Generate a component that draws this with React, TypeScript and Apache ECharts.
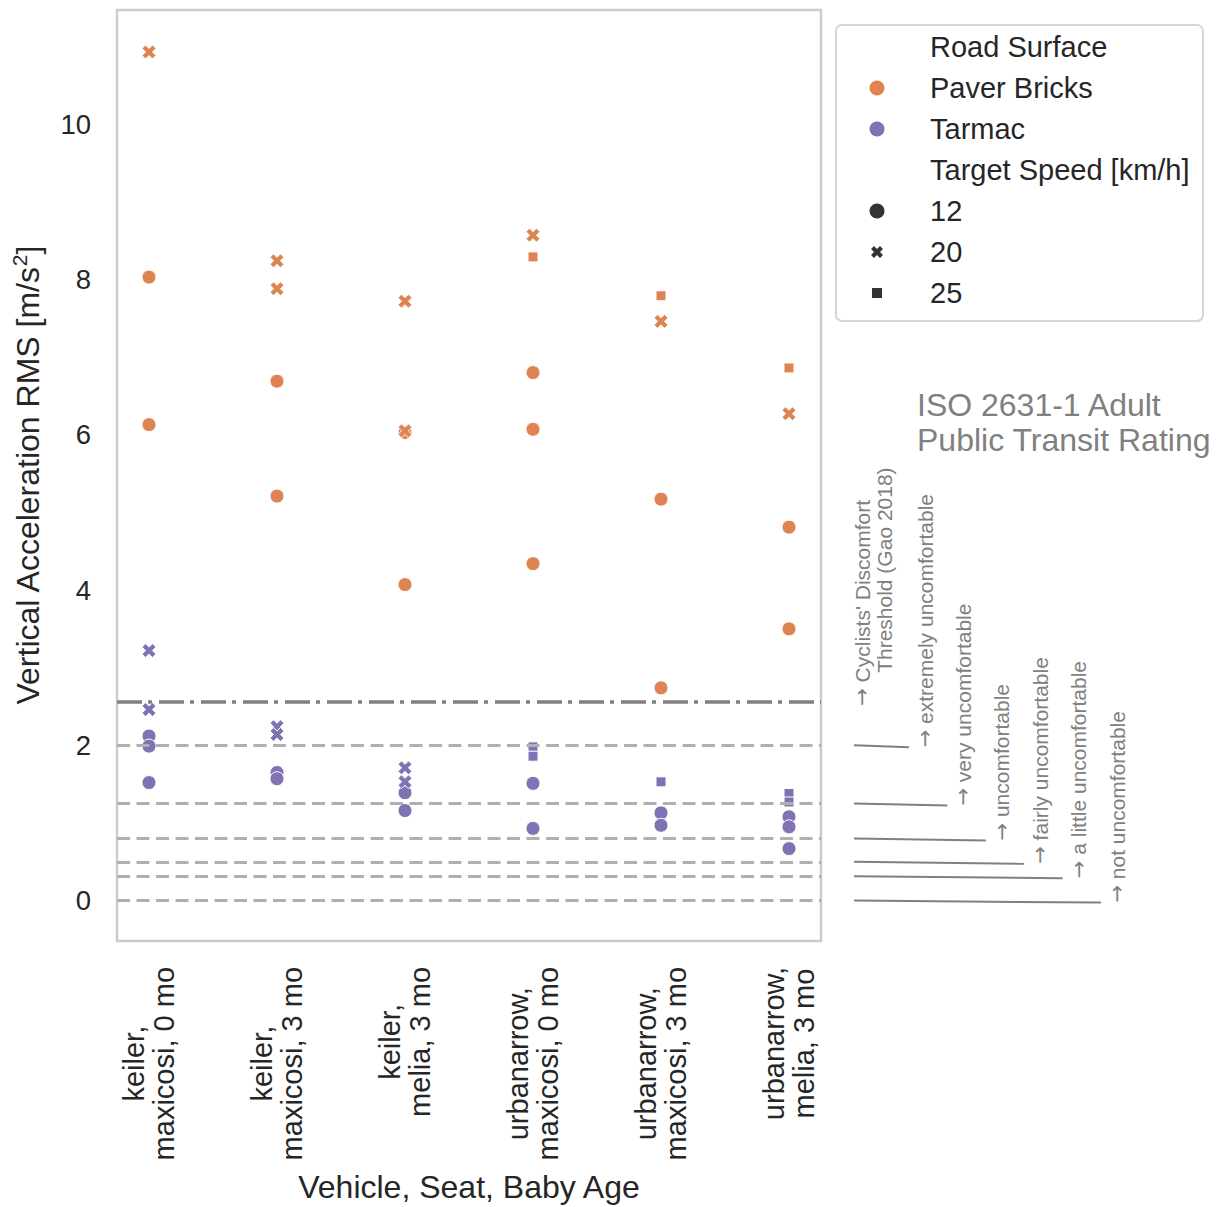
import React, { useEffect, useRef } from 'react';
import * as echarts from 'echarts';

const FONT = "'Liberation Sans', Arial, Helvetica, sans-serif";

// Category labels (two lines each)
const categories: string[][] = [
  ['keiler,', 'maxicosi, 0 mo'],
  ['keiler,', 'maxicosi, 3 mo'],
  ['keiler,', 'melia, 3 mo'],
  ['urbanarrow,', 'maxicosi, 0 mo'],
  ['urbanarrow,', 'maxicosi, 3 mo'],
  ['urbanarrow,', 'melia, 3 mo'],
];
const yTicks = [0, 2, 4, 6, 8, 10];

// [category index, RMS value]
const paver12 = [[0, 8.03], [0, 6.13], [1, 6.69], [1, 5.21], [2, 6.03], [2, 4.07], [3, 6.8], [3, 6.07], [3, 4.34], [4, 5.17], [4, 2.74], [5, 4.81], [5, 3.5]];
const paver20 = [[0, 10.93], [1, 8.24], [1, 7.88], [2, 7.72], [2, 6.05], [3, 8.57], [4, 7.46], [5, 6.27]];
const paver25 = [[3, 8.29], [4, 7.79], [5, 6.86]];
const tarmac12 = [[0, 2.12], [0, 1.99], [0, 1.52], [1, 1.65], [1, 1.57], [2, 1.39], [2, 1.16], [3, 1.51], [3, 0.93], [4, 1.13], [4, 0.97], [5, 1.08], [5, 0.95], [5, 0.67]];
const tarmac20 = [[0, 3.22], [0, 2.46], [1, 2.24], [1, 2.14], [2, 1.71], [2, 1.53]];
const tarmac25 = [[3, 1.98], [3, 1.86], [4, 1.53], [5, 1.38], [5, 1.27]];

const isoLevels = [2.0, 1.25, 0.8, 0.5, 0.315, 0];
const isoLabels = [
  'extremely uncomfortable',
  'very uncomfortable',
  'uncomfortable',
  'fairly uncomfortable',
  'a little uncomfortable',
  'not uncomfortable',
];
const gaoThreshold = 2.56;

const legendSurface = ['Paver Bricks', 'Tarmac'];
const legendSpeeds = ['12', '20', '25'];

const ORANGE = '#dd8452';
const PURPLE = '#8172b3';
const TEXT = '#262626';
const GREY = '#808080';

const xPts: number[][] = [[7.5, 0], [5, 2.5], [2.5, 0], [0, 2.5], [2.5, 5], [0, 7.5], [2.5, 10], [5, 7.5], [7.5, 10], [10, 7.5], [7.5, 5], [10, 2.5]];
const X_PATH = 'path://M' + xPts.map((p) => p[0] + ' ' + p[1]).join('L') + 'Z';

function scatter(name: string, data: number[][], symbol: string, size: number, color: string) {
  return {
    type: 'scatter',
    name,
    data,
    symbol,
    symbolSize: size,
    z: 3,
    itemStyle: { color, borderColor: '#ffffff', borderWidth: 1, opacity: 1 },
  };
}

export default function App() {
  const ref = useRef<HTMLDivElement>(null);
  useEffect(() => {
    if (!ref.current) return;
    const chart = echarts.init(ref.current, undefined, { renderer: 'svg' });
    const option: any = {
      animation: false,
      backgroundColor: '#ffffff',
      textStyle: { fontFamily: FONT },
      grid: {
        left: 117, top: 10, width: 704, height: 931,
        show: true, borderColor: '#cccccc', borderWidth: 2.5, backgroundColor: '#ffffff',
        outerBoundsMode: 'none',
      },
      xAxis: {
        type: 'value', min: -0.25, max: 5.25,
        axisLine: { show: false }, axisTick: { show: false }, splitLine: { show: false },
        axisLabel: {
          customValues: categories.map((_, i) => i),
          rotate: 90, margin: 26,
          formatter: (v: number) => {
            const c = categories[Math.round(v)];
            return c ? `{c|${c[0]}}\n{c|${c[1]}}` : '';
          },
          rich: { c: { align: 'center', fontSize: 29, lineHeight: 30, color: TEXT, fontFamily: FONT } },
        },
        name: 'Vehicle, Seat, Baby Age', nameLocation: 'middle', nameGap: 230, nameMoveOverlap: false,
        nameTextStyle: { fontSize: 32, color: TEXT, fontFamily: FONT },
      },
      yAxis: {
        type: 'value', min: -0.52, max: 11.47,
        axisLine: { show: false }, axisTick: { show: false }, splitLine: { show: false },
        axisLabel: { customValues: yTicks, fontSize: 27.5, color: TEXT, margin: 26, fontFamily: FONT, formatter: (v: number) => String(v) },
        name: '{a|Vertical Acceleration RMS [m/s}{s|2}{a|]}', nameLocation: 'middle', nameGap: 70, nameMoveOverlap: false,
        nameTextStyle: {
          rich: {
            a: { fontSize: 32, lineHeight: 38, color: TEXT, fontFamily: FONT },
            s: { fontSize: 21, lineHeight: 38, color: TEXT, fontFamily: FONT, verticalAlign: 'top' },
          },
        },
      },
      series: [
        {
          type: 'scatter', name: 'refs', data: [], z: 1, silent: true,
          markLine: {
            silent: true, symbol: ['none', 'none'], label: { show: false }, animation: false,
            data: [
              ...isoLevels.map((v) => ({ yAxis: v, lineStyle: { color: '#b0b0b0', width: 3, type: [13, 6.5] } })),
              { yAxis: gaoThreshold, lineStyle: { color: GREY, width: 3.5, type: [25, 6, 4, 7] } },
            ],
          },
        },
        scatter('Paver Bricks 12', paver12, 'circle', 14, ORANGE),
        scatter('Paver Bricks 20', paver20, X_PATH, 14, ORANGE),
        scatter('Paver Bricks 25', paver25, 'rect', 10, ORANGE),
        scatter('Tarmac 12', tarmac12, 'circle', 14, PURPLE),
        scatter('Tarmac 20', tarmac20, X_PATH, 14, PURPLE),
        scatter('Tarmac 25', tarmac25, 'rect', 10, PURPLE),
      ],
    };
    chart.setOption(option);

    const yPix = (v: number) => (chart.convertToPixel({ gridIndex: 0 } as any, [0, v]) as number[])[1];
    const textStyle = (text: string, size: number, fill: string, align = 'left', va = 'middle') => ({
      text, fontSize: size, fill, fontFamily: FONT,
      align, textAlign: align, verticalAlign: va, textVerticalAlign: va,
    });
    const arrowStyle = (text: string, size: number) => ({
      text: `{ar|→} {t|${text}}`, fontSize: size, fill: GREY, fontFamily: FONT,
      align: 'left', textAlign: 'left', verticalAlign: 'middle', textVerticalAlign: 'middle',
      rich: {
        ar: { fontFamily: "'DejaVu Sans', sans-serif", fontSize: size, fill: GREY, color: GREY },
        t: { fontFamily: FONT, fontSize: size, fill: GREY, color: GREY },
      },
    });
    const graphics: any[] = [];
    isoLevels.forEach((lv, i) => {
      const y = yPix(lv);
      const x2 = 909 + 38.4 * i;
      graphics.push({ type: 'line', shape: { x1: 854, y1: y, x2, y2: y + 2 }, style: { stroke: GREY, lineWidth: 2 }, silent: true });
      graphics.push({ type: 'text', x: x2 + 16, y: y + 2, rotation: Math.PI / 2, style: arrowStyle(isoLabels[i], 21) });
    });
    const gy = yPix(gaoThreshold);
    graphics.push({ type: 'text', x: 862, y: gy + 4, rotation: Math.PI / 2, style: arrowStyle("Cyclists' Discomfort", 21) });
    graphics.push({ type: 'text', x: 884, y: gy - 29, rotation: Math.PI / 2, style: textStyle('Threshold (Gao 2018)', 21, GREY) });
    graphics.push({ type: 'text', x: 917, y: 405, style: textStyle('ISO 2631-1 Adult', 32, GREY) });
    graphics.push({ type: 'text', x: 917, y: 440, style: textStyle('Public Transit Rating', 32, GREY) });

    // legend
    const rows = [47, 88, 129, 170, 211, 252, 293];
    const mx = 877;
    graphics.push({ type: 'rect', shape: { x: 836, y: 25, width: 367, height: 296, r: 6 }, style: { fill: 'rgba(255,255,255,0.8)', stroke: '#d6d6d6', lineWidth: 2 } });
    const legendTexts = ['Road Surface', legendSurface[0], legendSurface[1], 'Target Speed [km/h]', ...legendSpeeds];
    legendTexts.forEach((t, i) => graphics.push({ type: 'text', x: 930, y: rows[i], style: textStyle(t, 29, TEXT) }));
    graphics.push({ type: 'circle', shape: { cx: mx, cy: rows[1], r: 7.5 }, style: { fill: ORANGE } });
    graphics.push({ type: 'circle', shape: { cx: mx, cy: rows[2], r: 7.5 }, style: { fill: PURPLE } });
    graphics.push({ type: 'circle', shape: { cx: mx, cy: rows[4], r: 7.5 }, style: { fill: '#333333' } });
    graphics.push({
      type: 'polygon',
      shape: { points: xPts.map((p) => [mx - 6 + p[0] * 1.2, rows[5] - 6 + p[1] * 1.2]) },
      style: { fill: '#333333' },
    });
    graphics.push({ type: 'rect', shape: { x: mx - 5, y: rows[6] - 5, width: 10, height: 10 }, style: { fill: '#333333' } });

    chart.setOption({ graphic: { elements: graphics } });
    return () => chart.dispose();
  }, []);
  return <div ref={ref} style={{ position: 'absolute', left: 0, top: 0, width: 1221, height: 1207 }} />;
}
